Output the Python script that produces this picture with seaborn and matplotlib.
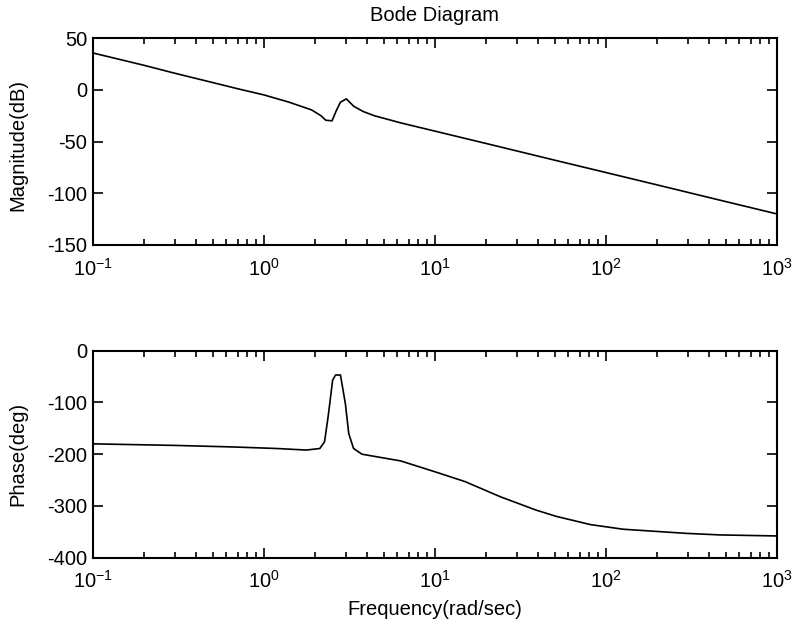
import numpy as np
import pandas as pd
import matplotlib
matplotlib.use("Agg")
import matplotlib.pyplot as plt
import seaborn as sns
from matplotlib.ticker import LogLocator, NullFormatter

freq_mag = [0.1, 0.15, 0.2, 0.3, 0.5, 0.7, 1.0, 1.4, 1.9, 2.15, 2.3, 2.5, 2.65,
            2.8, 3.03, 3.35, 3.8, 4.4, 6.3, 10, 20, 50, 100, 200, 500, 1000]
magnitude = [35.5, 28.5, 23.5, 16, 7, 1, -5, -12, -19.5, -25, -29.5, -30, -20,
             -12, -8.8, -16, -21, -25, -32, -40, -52, -68, -80, -92, -108, -120]

freq_ph = [0.1, 0.3, 0.66, 1.19, 1.77, 2.12, 2.26, 2.37, 2.52, 2.62, 2.8, 2.99,
           3.13, 3.34, 3.74, 6.3, 10, 15, 24, 39, 51, 81, 126, 296, 466, 1000]
phase = [-180, -183, -186, -189, -192, -189, -176, -128, -57, -47, -47, -102,
         -160, -189, -200, -213, -234, -253, -282, -308, -320, -336, -345, -353,
         -356, -358]

mag_ticks = [50, 0, -50, -100, -150]
ph_ticks = [0, -100, -200, -300, -400]

sns.set_style("ticks")
plt.rcParams['font.family'] = ['Liberation Sans', 'DejaVu Sans']
plt.rcParams['mathtext.fontset'] = 'custom'
plt.rcParams['mathtext.rm'] = 'Liberation Sans'
plt.rcParams['font.size'] = 14.5
plt.rcParams['axes.unicode_minus'] = False
for k in ['text.color', 'axes.labelcolor', 'xtick.color', 'ytick.color', 'axes.edgecolor']:
    plt.rcParams[k] = 'black'

fig = plt.figure(figsize=(7.94, 6.29), dpi=100)
ax1 = fig.add_axes([93/794, 1-245/629, 684/794, 207/629])
ax2 = fig.add_axes([93/794, 1-557.7/629, 684/794, 207/629])

df_mag = pd.DataFrame({'f': freq_mag, 'm': magnitude})
df_ph = pd.DataFrame({'f': freq_ph, 'p': phase})
sns.lineplot(data=df_mag, x='f', y='m', ax=ax1, color='black', lw=1.2, sort=False)
sns.lineplot(data=df_ph, x='f', y='p', ax=ax2, color='black', lw=1.2, sort=False)

for ax, yt in [(ax1, mag_ticks), (ax2, ph_ticks)]:
    ax.set_xscale('log')
    ax.set_xlim(0.1, 1000)
    ax.set_ylim(min(yt), max(yt))
    ax.set_yticks(yt)
    ax.xaxis.set_minor_locator(LogLocator(base=10, subs=np.arange(2, 10), numticks=20))
    ax.xaxis.set_minor_formatter(NullFormatter())
    ax.tick_params(which='both', direction='in', top=True, right=True,
                   labelsize=14.5, color='black', labelcolor='black', width=1.2)
    ax.tick_params(which='major', length=7)
    ax.tick_params(which='minor', length=4)
    ax.tick_params(axis='x', pad=9)
    ax.tick_params(axis='y', pad=4)
    for s in ax.spines.values():
        s.set_linewidth(1.5)
        s.set_color('black')
    ax.set_xlabel('')

ax1.set_ylabel('Magnitude(dB)', fontsize=14.5)
ax1.yaxis.set_label_coords(-0.0965, 0.483)
ax2.set_ylabel('Phase(deg)', fontsize=14.5)
ax2.yaxis.set_label_coords(-0.0965, 0.5)
ax1.set_title('Bode Diagram', fontsize=14.5, pad=12)
ax2.set_xlabel('Frequency(rad/sec)', fontsize=14.5, labelpad=6)

fig.savefig('out.png', dpi=100)
